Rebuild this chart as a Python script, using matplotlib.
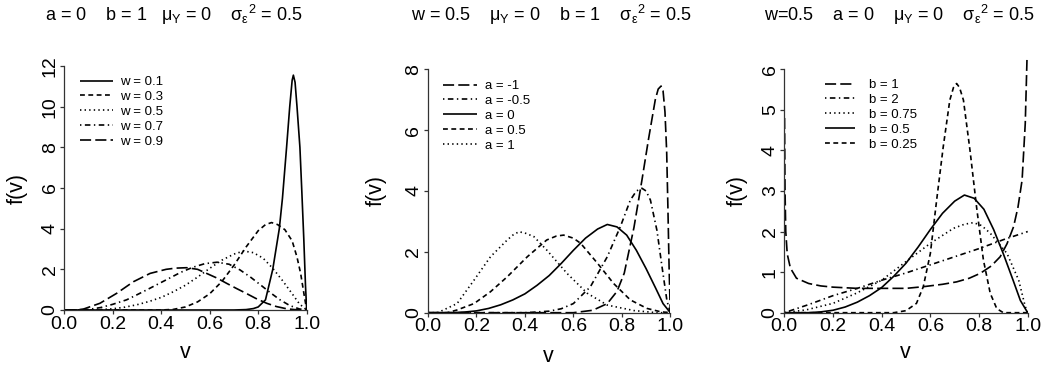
import matplotlib
matplotlib.use("Agg")
import matplotlib.pyplot as plt

plt.rcParams['font.family'] = ['Liberation Sans', 'DejaVu Sans']
plt.rcParams['mathtext.fontset'] = 'custom'
plt.rcParams['mathtext.rm'] = 'Liberation Sans'
plt.rcParams['mathtext.it'] = 'Liberation Sans'
plt.rcParams['mathtext.sf'] = 'Liberation Sans'
plt.rcParams['lines.scale_dashes'] = False

# ---------------- data ----------------
# Panel 1: a = 0, b = 1, varying w
v_w01 = [0.0, 0.70, 0.75, 0.78, 0.80, 0.83, 0.86, 0.887, 0.90, 0.917, 0.93, 0.94, 0.945, 0.952, 0.96, 0.972, 0.98, 0.988, 0.995, 1.0]
f_w01 = [0.0, 0.0, 0.02, 0.07, 0.15, 0.5, 2.0, 4.0, 5.5, 8.0, 10.0, 11.3, 11.55, 11.2, 10.0, 8.0, 5.8, 3.5, 1.2, 0.0]
v_w03 = [0.0, 0.40, 0.45, 0.50, 0.55, 0.60, 0.65, 0.70, 0.75, 0.80, 0.83, 0.855, 0.88, 0.91, 0.94, 0.96, 0.975, 0.99, 1.0]
f_w03 = [0.0, 0.0, 0.03, 0.15, 0.4, 0.8, 1.4, 2.2, 3.1, 3.9, 4.2, 4.3, 4.2, 3.95, 3.4, 2.6, 1.8, 0.7, 0.0]
v_w05 = [0.0, 0.10, 0.15, 0.20, 0.25, 0.30, 0.35, 0.40, 0.45, 0.50, 0.55, 0.60, 0.65, 0.70, 0.74, 0.78, 0.82, 0.86, 0.90, 0.94, 0.97, 1.0]
f_w05 = [0.0, 0.0, 0.02, 0.06, 0.14, 0.26, 0.42, 0.62, 0.9, 1.22, 1.62, 2.05, 2.45, 2.75, 2.9, 2.82, 2.55, 2.05, 1.45, 0.8, 0.3, 0.0]
v_w07 = [0.0, 0.05, 0.10, 0.15, 0.20, 0.257, 0.30, 0.35, 0.42, 0.48, 0.53, 0.58, 0.63, 0.68, 0.725, 0.77, 0.81, 0.85, 0.89, 0.93, 0.97, 1.0]
f_w07 = [0.0, 0.0, 0.03, 0.12, 0.28, 0.5, 0.75, 1.05, 1.48, 1.85, 2.1, 2.28, 2.35, 2.25, 1.97, 1.6, 1.23, 0.85, 0.5, 0.22, 0.05, 0.0]
v_w09 = [0.0, 0.05, 0.08, 0.147, 0.216, 0.285, 0.354, 0.42, 0.46, 0.505, 0.55, 0.587, 0.63, 0.67, 0.71, 0.75, 0.79, 0.835, 0.875, 0.917, 0.95, 1.0]
f_w09 = [0.0, 0.0, 0.05, 0.33, 0.82, 1.39, 1.8, 2.0, 2.06, 2.08, 2.0, 1.8, 1.57, 1.31, 1.06, 0.82, 0.57, 0.33, 0.17, 0.06, 0.02, 0.0]

# Panel 2: w = 0.5, b = 1, varying a
v_am1 = [0.0, 0.60, 0.68, 0.74, 0.78, 0.81, 0.85, 0.883, 0.91, 0.938, 0.95, 0.962, 0.97, 0.978, 0.985, 0.99, 0.995, 1.0]
f_am1 = [0.0, 0.0, 0.08, 0.3, 0.7, 1.3, 2.8, 4.36, 5.7, 7.0, 7.35, 7.45, 7.3, 6.6, 5.3, 3.5, 1.5, 0.0]
v_am05 = [0.0, 0.40, 0.50, 0.55, 0.60, 0.67, 0.74, 0.794, 0.835, 0.86, 0.883, 0.90, 0.918, 0.945, 0.966, 0.986, 1.0]
f_am05 = [0.0, 0.0, 0.05, 0.13, 0.3, 0.85, 1.84, 2.83, 3.7, 4.0, 4.09, 4.0, 3.7, 2.7, 1.5, 0.4, 0.0]
v_a0 = v_w05
f_a0 = f_w05
v_a05 = [0.0, 0.08, 0.12, 0.19, 0.258, 0.327, 0.41, 0.49, 0.53, 0.56, 0.60, 0.63, 0.70, 0.766, 0.835, 0.904, 0.96, 1.0]
f_a05 = [0.0, 0.0, 0.09, 0.3, 0.69, 1.18, 1.84, 2.39, 2.52, 2.55, 2.45, 2.28, 1.62, 0.96, 0.42, 0.14, 0.03, 0.0]
v_a1 = [0.0, 0.04, 0.12, 0.19, 0.258, 0.327, 0.35, 0.375, 0.40, 0.437, 0.49, 0.574, 0.657, 0.74, 0.85, 0.945, 1.0]
f_a1 = [0.0, 0.0, 0.3, 1.07, 1.84, 2.39, 2.55, 2.66, 2.62, 2.5, 2.06, 1.29, 0.64, 0.25, 0.07, 0.0, 0.0]

# Panel 3: w = 0.5, a = 0, varying b
v_b1 = [0.001, 0.003, 0.006, 0.012, 0.025, 0.05, 0.10, 0.15, 0.20, 0.30, 0.40, 0.50, 0.57, 0.65, 0.708, 0.76, 0.805, 0.85, 0.887, 0.915, 0.942, 0.96, 0.977, 0.99, 0.997]
f_b1 = [4.8, 3.0, 2.0, 1.45, 1.1, 0.85, 0.72, 0.66, 0.63, 0.6, 0.6, 0.6, 0.64, 0.7, 0.76, 0.85, 0.97, 1.15, 1.38, 1.7, 2.12, 2.6, 3.27, 4.67, 6.23]
v_b2 = [0.0, 0.1, 0.2, 0.3, 0.4, 0.5, 0.6, 0.7, 0.8, 0.9, 1.0]
f_b2 = [0.0, 0.2, 0.42, 0.6, 0.8, 0.98, 1.18, 1.38, 1.58, 1.8, 2.0]
v_b075 = [0.0, 0.09, 0.2, 0.296, 0.4, 0.5, 0.6, 0.695, 0.74, 0.777, 0.81, 0.846, 0.915, 0.963, 0.99, 1.0]
f_b075 = [0.0, 0.07, 0.23, 0.48, 0.8, 1.26, 1.71, 2.08, 2.18, 2.22, 2.15, 1.96, 1.46, 0.8, 0.15, 0.0]
v_b05 = v_w05
f_b05 = f_w05
v_b025 = [0.0, 0.45, 0.50, 0.543, 0.571, 0.60, 0.626, 0.653, 0.68, 0.695, 0.708, 0.72, 0.736, 0.763, 0.79, 0.818, 0.846, 0.873, 0.90, 1.0]
f_b025 = [0.0, 0.0, 0.05, 0.23, 0.64, 1.46, 2.78, 4.09, 5.24, 5.55, 5.65, 5.55, 5.24, 4.0, 2.6, 1.3, 0.48, 0.1, 0.0, 0.0]

titles = [r"a = 0    b = 1   $\mu_{Y}$ = 0    ${\sigma_{\varepsilon}}^{2}$ = 0.5",
          r"w = 0.5    $\mu_{Y}$ = 0    b = 1    ${\sigma_{\varepsilon}}^{2}$ = 0.5",
          r"w=0.5    a = 0    $\mu_{Y}$ = 0    ${\sigma_{\varepsilon}}^{2}$ = 0.5"]

# ---------------- styles ----------------
SOLID = '-'
DASHED = (0, (3.5, 2.5))
DOTTED = (0, (1.0, 2.3))
DOTDASH = (0, (1.0, 2.5, 4.0, 2.5))
LONGDASH = (0, (8.0, 3.0))

panels = [
    dict(series=[(v_w01, f_w01, "w = 0.1", SOLID), (v_w03, f_w03, "w = 0.3", DASHED),
                 (v_w05, f_w05, "w = 0.5", DOTTED), (v_w07, f_w07, "w = 0.7", DOTDASH),
                 (v_w09, f_w09, "w = 0.9", LONGDASH)],
         left=64.3, right=306.7, y0=310.0, ytick_px=66.0, ytick_max=12, ystep=2,
         title_x=174, leg=(80, 76), hl=2.5, htp=0.55, ylab_x=17, xlab=(185, 353)),
    dict(series=[(v_am1, f_am1, "a = -1", LONGDASH), (v_am05, f_am05, "a = -0.5", DOTDASH),
                 (v_a0, f_a0, "a = 0", SOLID), (v_a05, f_a05, "a = 0.5", DASHED),
                 (v_a1, f_a1, "a = 1", DOTTED)],
         left=428.0, right=670.3, y0=312.7, ytick_px=69.3, ytick_max=8, ystep=2,
         title_x=551, leg=(443, 80), hl=2.6, htp=0.55, ylab_x=376, xlab=(548, 357)),
    dict(series=[(v_b1, f_b1, "b = 1", LONGDASH), (v_b2, f_b2, "b = 2", DOTDASH),
                 (v_b075, f_b075, "b = 0.75", DOTTED), (v_b05, f_b05, "b = 0.5", SOLID),
                 (v_b025, f_b025, "b = 0.25", DASHED)],
         left=784.3, right=1027.7, y0=312.7, ytick_px=69.3, ytick_max=6, ystep=1,
         title_x=899, leg=(825, 79), hl=2.3, htp=1.05, ylab_x=737, xlab=(905, 353)),
]

W, H = 1043, 367
fig = plt.figure(figsize=(W / 100, H / 100), dpi=100)
TOP_PX = 50.0

for p in panels:
    scale = (p['y0'] - p['ytick_px']) / p['ytick_max']
    ytop = (p['y0'] - TOP_PX) / scale
    ax = fig.add_axes([p['left'] / W, 1 - p['y0'] / H, (p['right'] - p['left']) / W, (p['y0'] - TOP_PX) / H])
    for v, f, lab, ls in p['series']:
        ax.plot(v, f, color='black', lw=1.2, linestyle=ls, label=lab, solid_capstyle='butt')
    ax.set_xlim(0, 1)
    ax.set_ylim(0, ytop)
    ax.spines['top'].set_visible(False)
    ax.spines['right'].set_visible(False)
    ax.spines['left'].set_bounds(0, p['ytick_max'])
    ax.spines['bottom'].set_bounds(0, 1)
    for s in ('left', 'bottom'):
        ax.spines[s].set_linewidth(0.9)
        ax.spines[s].set_color('#333333')
    xt = [0.0, 0.2, 0.4, 0.6, 0.8, 1.0]
    ax.set_xticks(xt)
    ax.set_xticklabels([f"{t:.1f}" for t in xt], fontsize=14)
    yt = list(range(0, p['ytick_max'] + 1, p['ystep']))
    ax.set_yticks(yt)
    ax.set_yticklabels([str(t) for t in yt], fontsize=14, rotation=90, va='center')
    ax.tick_params(direction='out', length=3.0, width=0.9, color='#333333', pad=1.0)
    ax.patch.set_visible(False)
    fig.text(p['ylab_x'] / W, 1 - ((p['y0'] + p['ytick_px']) / 2) / H, "f(v)", rotation=90,
             ha='center', va='center', fontsize=15.5)
    fig.text(p['xlab'][0] / W, 1 - p['xlab'][1] / H, "v", ha='center', va='center', fontsize=15.5)
    lx, ly = p['leg']
    ax.legend(loc='upper left', bbox_to_anchor=(lx / W, 1 - ly / H), bbox_transform=fig.transFigure,
              frameon=False, fontsize=9.5, handlelength=p['hl'], handletextpad=p['htp'],
              borderpad=0, borderaxespad=0, labelspacing=0.2)

for p, t in zip(panels, titles):
    fig.text(p['title_x'] / W, 1 - 15 / H, t, ha='center', va='center', fontsize=13)

fig.savefig("out.png", dpi=100)
